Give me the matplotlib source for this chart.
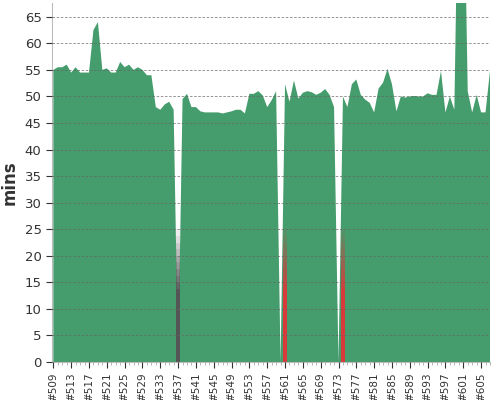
import numpy as np
import matplotlib.pyplot as plt

builds = list(range(509, 608))
mins = [55, 55.5, 55.5, 56, 54.5, 55.5, 54.5, 54.5, 54.5, 62.5,
        64, 55, 55.3, 54.5, 54.5, 56.5, 55.5, 56, 55, 55.5,
        55, 54, 54, 48, 47.5, 48.5, 49, 47.5, 0, 49.5,
        50.5, 48, 48, 47.2, 47, 47, 47, 47, 46.8, 47,
        47.2, 47.5, 47.5, 46.8, 50.5, 50.5, 51, 50.2, 48, 49.3,
        51, 0, 52.3, 49, 53, 49.6, 50.7, 51, 50.8, 50.3,
        50.7, 51.4, 50.3, 48, 0, 50, 48, 52.3, 53.2, 50.3,
        49.4, 48.8, 47, 51.5, 52.6, 55.2, 52.3, 47.2, 50, 49.8,
        50, 50.1, 50, 50, 50.6, 50.3, 50.3, 54.8, 47, 50,
        47.5, 100, 100, 51, 47, 50.3, 47, 47, 54.8]
zero_colors = {537: '#555555', 561: '#d83a3a', 574: '#d83a3a'}
tick_labels = ['#%d' % b for b in builds[::4]]

fig = plt.figure(figsize=(5, 4), dpi=100)
ax = fig.add_axes([0.104, 0.095, 0.876, 0.8975])
x = np.arange(len(builds))
ax.fill_between(x, mins, color='#459c6c', lw=0, zorder=1)

# failed builds: coloured bar fading upwards
for b, c in zero_colors.items():
    i = builds.index(b)
    n = 20
    for k in range(n):
        ax.bar(i, 25 / n, bottom=k * 25 / n, width=0.9, color=c,
               alpha=1 - (k - 10) / 10 if k > 10 else 1, lw=0, zorder=2)

ax.set_xlim(-0.3, len(builds) - 1)
ax.set_ylim(0, 67.6)
ax.set_yticks(range(0, 70, 5))
ax.set_xticks(x[::4])
ax.set_xticklabels(tick_labels, rotation=90, fontsize=7.5)
ax.set_xticks(x, minor=True)
ax.tick_params(axis='y', labelsize=9.5, colors='#333333', length=4)
ax.tick_params(axis='x', colors='#333333', length=4)
ax.tick_params(which='minor', length=2, color='#aaaaaa')
ax.grid(axis='y', linestyle=(0, (3, 2)), color='#666666', lw=0.6, alpha=0.8, zorder=3)
ax.set_axisbelow(False)
ax.set_ylabel('mins', fontsize=12, fontweight='bold', color='#333333')
for s in ['top', 'right']:
    ax.spines[s].set_visible(False)
for s in ['left', 'bottom']:
    ax.spines[s].set_color('#bbbbbb')

fig.savefig('out.png')
